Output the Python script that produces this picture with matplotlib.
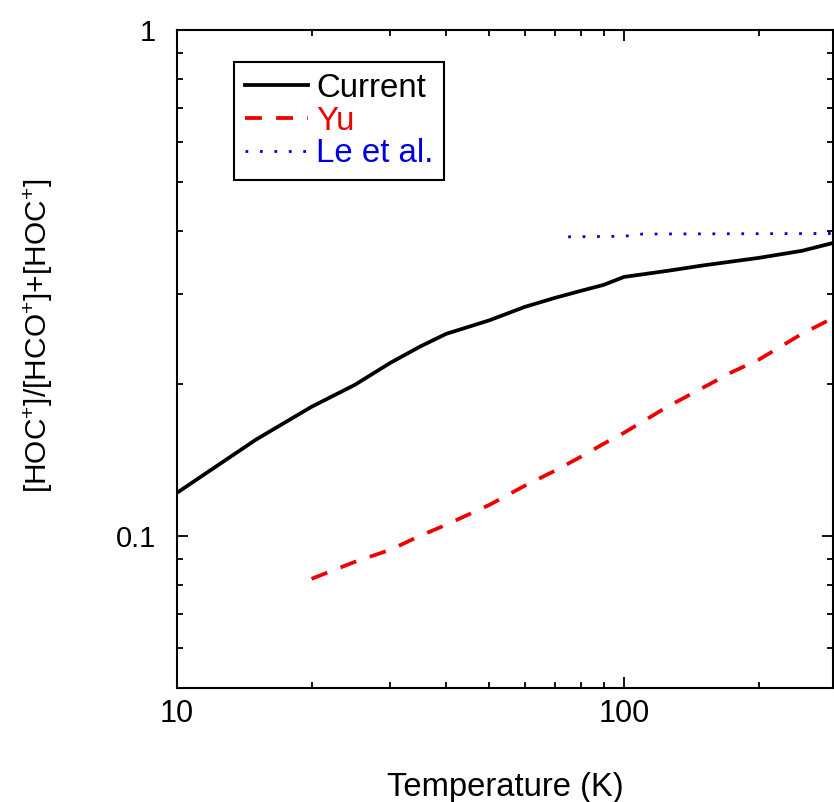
import matplotlib
matplotlib.use("Agg")
import matplotlib.pyplot as plt
from matplotlib.ticker import FixedLocator, NullFormatter, FixedFormatter

# Data
T_current = [10, 15, 20, 25, 30, 35, 40, 50, 60, 70, 80, 90, 100, 125, 150, 175, 200, 250, 300]
R_current = [0.1216, 0.1548, 0.1799, 0.1988, 0.2197, 0.2367, 0.2507, 0.2667, 0.2835, 0.2953,
             0.3049, 0.3133, 0.3249, 0.3340, 0.3423, 0.3487, 0.3543, 0.3659, 0.3811]

T_yu = [20, 25, 30, 35, 40, 50, 60, 70, 80, 90, 100, 125, 150, 175, 200, 250, 300]
R_yu = [0.0822, 0.0888, 0.0938, 0.1000, 0.1051, 0.1151, 0.1256, 0.1344, 0.1432, 0.1520,
        0.1598, 0.1799, 0.1961, 0.2110, 0.2228, 0.2507, 0.2721]

T_le = [75, 100, 110, 300]
R_le = [0.390, 0.391, 0.395, 0.396]

x_major = [10, 100]
x_major_labels = ["10", "100"]
y_major = [0.1, 1]
y_major_labels = ["0.1", "1"]

plt.rcParams['font.family'] = ['Liberation Sans', 'DejaVu Sans']
plt.rcParams['mathtext.fontset'] = 'custom'
plt.rcParams['mathtext.rm'] = 'Liberation Sans'
plt.rcParams['mathtext.it'] = 'Liberation Sans'
plt.rcParams['mathtext.bf'] = 'Liberation Sans'

W, H = 834, 802
fig = plt.figure(figsize=(W / 100, H / 100), dpi=100)
left, right, top, bottom = 177, 833, 30, 688
ax = fig.add_axes([left / W, (H - bottom) / H, (right - left) / W, (bottom - top) / H])

ax.set_xscale('log')
ax.set_yscale('log')

ax.plot(T_current, R_current, color='black', lw=2.7, label='Current', solid_joinstyle='round')
ax.plot(T_yu, R_yu, color='#ee0000', lw=2.7, dashes=(4.5, 3.8), label='Yu')
ax.plot(T_le, R_le, color='#0000dd', lw=2.0, dashes=(1, 4.2), label='Le et al.')

xmax = 10 ** (1 + (right - left) / 447.0)
ax.set_xlim(10, xmax)
ax.set_ylim(0.05, 1)

ax.xaxis.set_major_locator(FixedLocator(x_major))
ax.xaxis.set_major_formatter(FixedFormatter(x_major_labels))
ax.xaxis.set_minor_locator(FixedLocator([20, 30, 40, 50, 60, 70, 80, 90, 200, 300]))
ax.xaxis.set_minor_formatter(NullFormatter())
ax.yaxis.set_major_locator(FixedLocator(y_major))
ax.yaxis.set_major_formatter(FixedFormatter(y_major_labels))
ax.yaxis.set_minor_locator(FixedLocator([0.05, 0.06, 0.07, 0.08, 0.09, 0.2, 0.3, 0.4, 0.5, 0.6, 0.7, 0.8, 0.9]))
ax.yaxis.set_minor_formatter(NullFormatter())

ax.tick_params(which='both', direction='in', top=True, right=True, width=1.3, colors='black')
ax.tick_params(which='major', length=8)
ax.tick_params(which='minor', length=4.5)
ax.tick_params(axis='x', which='major', labelsize=22, pad=8)
ax.tick_params(axis='y', which='major', labelsize=21, pad=15)
for s in ax.spines.values():
    s.set_linewidth(1.5)

ax.set_xlabel('Temperature (K)', fontsize=23.6, labelpad=31)
ax.set_ylabel(r'[HOC$^{+}$]/[HCO$^{+}$]+[HOC$^{+}$]', fontsize=21.5)
ax.yaxis.set_label_coords(-0.186, 0.536)

leg = ax.legend(loc='upper left', bbox_to_anchor=((234 - left) / (right - left), 1 - (62 - top) / (bottom - top)),
                fontsize=23.8, frameon=True, fancybox=False, framealpha=1, edgecolor='black',
                handlelength=1.9, handletextpad=0.25, labelspacing=0.05, borderpad=0.33,
                borderaxespad=0)
leg.get_frame().set_linewidth(1.5)
for txt, c in zip(leg.get_texts(), ['black', '#ee0000', '#0000dd']):
    txt.set_color(c)

fig.savefig('out.png', dpi=100)
